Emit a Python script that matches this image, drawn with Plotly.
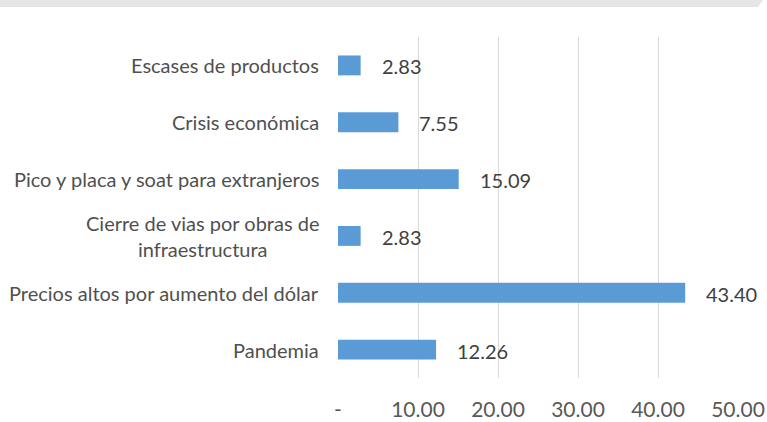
import plotly.graph_objects as go

categories = [
    "Pandemia",
    "Precios altos por aumento del dólar",
    "Cierre de vias por obras de<br>infraestructura",
    "Pico y placa y soat para extranjeros",
    "Crisis económica",
    "Escases de productos",
]
values = [12.26, 43.40, 2.83, 15.09, 7.55, 2.83]
x_tickvals = [0, 10, 20, 30, 40, 50]
x_ticktext = ["-", "10.00", "20.00", "30.00", "40.00", "50.00"]

FONT = "Lato, 'Open Sans', sans-serif"
PW, PH = 400, 341  # plot area in px

fig = go.Figure()
fig.add_trace(go.Bar(
    y=categories, x=values, orientation="h",
    marker=dict(color="#5b9bd5", line=dict(width=0)),
    width=0.35,
    hoverinfo="skip",
))

annotations = []
for c, v in zip(categories, values):
    annotations.append(dict(
        x=v, y=c, xref="x", yref="y", text=f"{v:.2f}", showarrow=False,
        xanchor="left", xshift=19, yshift=-1,
        font=dict(family=FONT, size=20, color="#404040"),
    ))
    annotations.append(dict(
        x=0, y=c, xref="paper", yref="y", text=c, showarrow=False,
        xanchor="right", xshift=-17, align="center",
        font=dict(family=FONT, size=20, color="#505050"),
    ))

x0p = -338 / PW
x1p = (758 - 338) / PW
x2p = (763 - 338) / PW
y0p = 1 + 30 / PH
y1p = 1 + 37 / PH
strip_path = f"M {x0p},{y0p} L {x1p},{y0p} L {x2p},{y1p} L {x0p},{y1p} Z"

fig.update_layout(
    width=767, height=422,
    margin=dict(l=338, r=29, t=37, b=44, autoexpand=False),
    paper_bgcolor="white", plot_bgcolor="white",
    showlegend=False,
    annotations=annotations,
    shapes=[dict(type="path", xref="paper", yref="paper", path=strip_path,
                 fillcolor="#e6e6e6", line=dict(width=0), layer="below")],
    xaxis=dict(
        range=[0, 50], tickvals=x_tickvals, ticktext=x_ticktext,
        showgrid=True, gridcolor="#d9d9d9", gridwidth=1,
        zeroline=False, showline=False, automargin=False,
        ticks="", ticklabelstandoff=17,
        tickfont=dict(family=FONT, size=21, color="#595959"),
    ),
    yaxis=dict(
        categoryorder="array", categoryarray=categories,
        range=[-0.5, 5.5], automargin=False,
        showticklabels=False, showgrid=False, zeroline=False, showline=False,
        ticks="",
    ),
)

fig.write_html("out.html", config={"displayModeBar": False},
               post_script="document.body.style.margin='0';")
